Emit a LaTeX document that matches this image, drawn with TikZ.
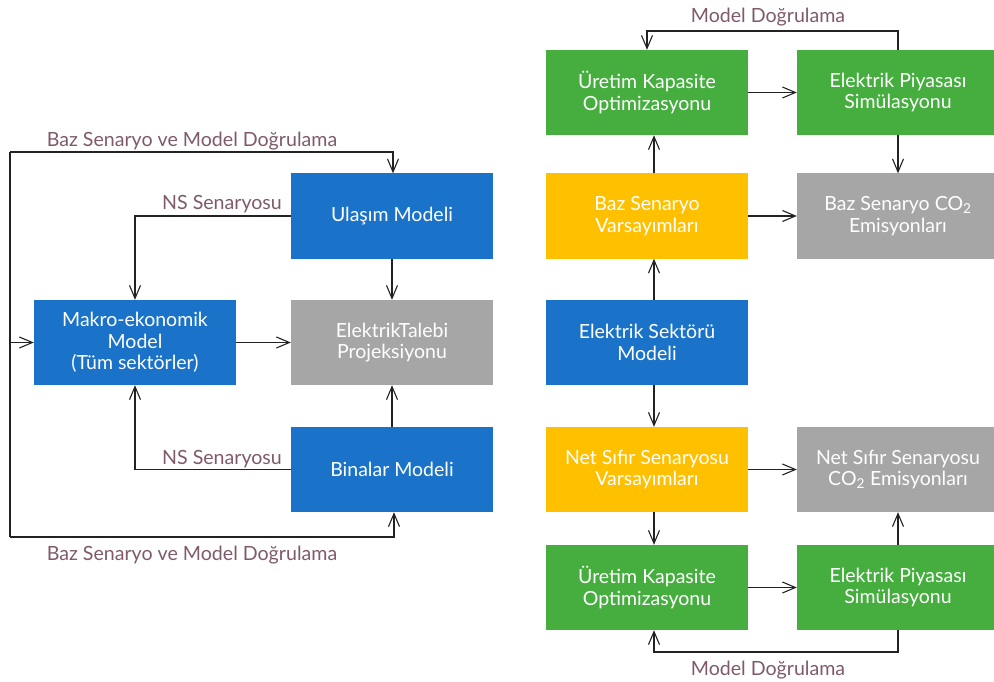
\documentclass[tikz,border=0pt]{standalone}
\usepackage{fontspec}
\setmainfont{Lato}
\usetikzlibrary{arrows.meta}
\definecolor{bblue}{HTML}{1A73C8}
\definecolor{bgreen}{HTML}{46AE3F}
\definecolor{byellow}{HTML}{FFC000}
\definecolor{bgray}{HTML}{A6A6A6}
\definecolor{lblcol}{HTML}{7F5A6A}
\definecolor{linecol}{HTML}{222222}
\begin{document}
\begin{tikzpicture}[x=1pt,y=-1pt,
  box/.style={minimum width=202pt,minimum height=85pt,inner sep=0pt,text=white,align=center,
    font=\fontsize{19.5}{21.5}\selectfont},
  bluebox/.style={box,fill=bblue},
  greenbox/.style={box,fill=bgreen},
  yellowbox/.style={box,fill=byellow},
  graybox/.style={box,fill=bgray},
  conn/.style={draw=linecol,line width=1.2pt,-{Straight Barb[length=13pt,width=11pt,line width=1.1pt]}},
  plain/.style={draw=linecol,line width=1.2pt},
  lbl/.style={text=lblcol,font=\fontsize{19.6}{21}\selectfont,inner sep=0pt,anchor=base}]
\useasboundingbox (0,0) rectangle (994,682);
\begin{scope}
\clip (0,0) rectangle (994,682);
% left
\node[bluebox] (ulasim) at (392,216) {Ulaşım Modeli};
\node[bluebox] (makro) at (135,342.5) {Makro-ekonomik\\Model\\(Tüm sektörler)};
\node[graybox] (talep) at (392,342.5) {ElektrikTalebi\\Projeksiyonu};
\node[bluebox] (binalar) at (392,469.5) {Binalar Modeli};
% right
\node[greenbox] (uret1) at (647,92.5) {Üretim Kapasite\\Optimizasyonu};
\node[greenbox] (piy1) at (898,92.5) {Elektrik Piyasası\\Simülasyonu};
\node[yellowbox] (bazv) at (647,216) {Baz Senaryo\\Varsayımları};
\node[graybox] (bazco) at (898,216) {Baz Senaryo CO\textsubscript{2}\\Emisyonları};
\node[bluebox] (sektor) at (647,342.5) {Elektrik Sektörü\\Modeli};
\node[yellowbox] (netv) at (647,469.5) {Net Sıfır Senaryosu\\Varsayımları};
\node[graybox] (netco) at (898,469.5) {Net Sıfır Senaryosu\\CO\textsubscript{2} Emisyonları};
\node[greenbox] (uret2) at (647,587.5) {Üretim Kapasite\\Optimizasyonu};
\node[greenbox] (piy2) at (898,587.5) {Elektrik Piyasası\\Simülasyonu};
\end{scope}
% left connectors
\coordinate (tl) at (10,152);
\coordinate (bl) at (10,537);
\coordinate (ml) at (10,342.5);
\draw[plain] (tl) -- (bl);
\draw[conn] (tl) -| ([xshift=1]ulasim.north);
\draw[conn] (bl) -| ([xshift=2]binalar.south);
\draw[conn] (ml) -- (makro.west);
\draw[conn] (ulasim.west) -| (makro.north);
\draw[conn] (binalar.west) -| (makro.south);
\draw[conn] (ulasim.south) -- (talep.north);
\draw[conn] (binalar.north) -- (talep.south);
\draw[conn] (makro.east) -- (talep.west);
\node[lbl] (lb1) at (192,147) {Baz Senaryo ve Model Doğrulama};
\node[lbl] (lb2) at (192,560) {Baz Senaryo ve Model Doğrulama};
\node[lbl] (lb3) at (222,210) {NS Senaryosu};
\node[lbl] (lb4) at (222,464) {NS Senaryosu};
% right connectors
\draw[conn] ([xshift=7]sektor.north) -- ([xshift=7]bazv.south);
\draw[conn] ([xshift=7]bazv.north) -- ([xshift=7]uret1.south);
\draw[conn] (uret1.east) -- (piy1.west);
\draw[conn] (piy1.south) -- (bazco.north);
\draw[conn] (bazv.east) -- (bazco.west);
\coordinate (tr) at (898,31);
\draw[conn] (piy1.north) -- (tr) -| (uret1.north);
\draw[conn] ([xshift=7]sektor.south) -- ([xshift=7]netv.north);
\draw[conn] ([xshift=7]netv.south) -- ([xshift=7]uret2.north);
\draw[conn] (netv.east) -- (netco.west);
\draw[conn] (uret2.east) -- (piy2.west);
\draw[conn] (piy2.north) -- (netco.south);
\coordinate (br) at (898,652);
\draw[conn] (piy2.south) -- (br) -| ([xshift=7]uret2.south);
\node[lbl] (lb5) at (768,23) {Model Doğrulama};
\node[lbl] (lb6) at (768,675) {Model Doğrulama};
\end{tikzpicture}
\end{document}
